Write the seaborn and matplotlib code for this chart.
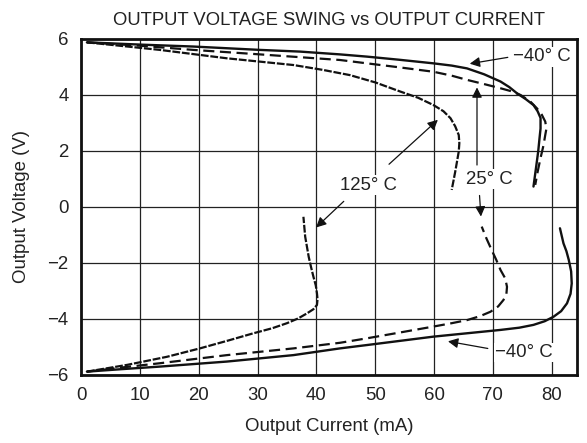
import numpy as np
import pandas as pd
import matplotlib
matplotlib.use("Agg")
import matplotlib.pyplot as plt
import seaborn as sns

# -- data (Output Current mA, Output Voltage V) --
m40_hi_x = [1.0, 10.0, 19.1, 30.4, 37.2, 44.0, 48.6, 54.0, 59.9, 63.0, 65.6, 68.5, 71.3, 72.8, 74.1, 75.6, 76.9, 77.6, 78.1, 78.1, 77.9, 77.7, 77.3, 76.9]
m40_hi_y = [5.88, 5.80, 5.73, 5.61, 5.55, 5.45, 5.37, 5.26, 5.13, 5.05, 4.95, 4.74, 4.48, 4.28, 4.06, 3.85, 3.64, 3.42, 3.18, 2.80, 2.40, 1.98, 1.35, 0.73]
m40_lo_x = [1.0, 7.0, 13.4, 24.8, 36.1, 44.0, 48.6, 59.9, 71.3, 74.5, 76.9, 78.8, 80.3, 81.6, 82.6, 83.2, 83.4, 83.3, 82.9, 82.5, 82.0, 81.4]
m40_lo_y = [-5.88, -5.79, -5.70, -5.52, -5.29, -5.05, -4.93, -4.63, -4.39, -4.31, -4.21, -4.08, -3.92, -3.72, -3.44, -3.10, -2.73, -2.30, -1.89, -1.58, -1.30, -0.76]

t25_hi_x = [1.0, 10.0, 19.1, 30.4, 37.2, 44.0, 48.6, 54.0, 59.9, 63.0, 65.6, 68.5, 71.3, 73.2, 74.7, 76.3, 77.5, 78.3, 78.9, 79.1, 78.9, 78.6, 78.1, 77.6, 77.2]
t25_hi_y = [5.88, 5.76, 5.61, 5.45, 5.35, 5.25, 5.13, 4.99, 4.83, 4.69, 4.54, 4.39, 4.24, 4.13, 4.00, 3.78, 3.52, 3.30, 3.05, 2.80, 2.57, 2.20, 1.75, 1.25, 0.79]
t25_lo_x = [1.0, 7.0, 13.4, 24.8, 36.1, 44.0, 48.6, 54.0, 59.9, 63.0, 65.6, 67.8, 69.6, 70.9, 71.8, 72.3, 72.4, 72.1, 71.3, 70.6, 69.8, 68.9, 68.1]
t25_lo_y = [-5.88, -5.73, -5.58, -5.29, -5.05, -4.85, -4.69, -4.49, -4.27, -4.15, -4.04, -3.90, -3.74, -3.55, -3.32, -3.10, -2.85, -2.55, -2.25, -1.90, -1.54, -1.12, -0.70]

t125_hi_x = [1.0, 7.0, 13.4, 24.8, 36.1, 41.0, 45.7, 50.0, 54.3, 57.3, 59.9, 61.6, 62.8, 63.6, 64.2, 64.3, 64.2, 63.9, 63.6, 63.3, 63.0]
t125_hi_y = [5.88, 5.75, 5.61, 5.31, 5.07, 4.90, 4.71, 4.45, 4.12, 3.90, 3.64, 3.42, 3.17, 2.88, 2.57, 2.28, 1.98, 1.62, 1.26, 0.93, 0.61]
t125_lo_x = [1.0, 7.8, 14.6, 20.2, 25.0, 29.3, 32.5, 35.0, 36.9, 38.4, 39.5, 40.1, 40.2, 40.1, 39.9, 39.5, 39.1, 38.7, 38.4, 38.1, 37.8]
t125_lo_y = [-5.88, -5.64, -5.35, -5.05, -4.77, -4.51, -4.33, -4.15, -3.98, -3.80, -3.65, -3.50, -3.30, -3.08, -2.80, -2.49, -2.15, -1.78, -1.42, -1.06, -0.35]

x_ticks = [0, 10, 20, 30, 40, 50, 60, 70, 80]
y_ticks = [-6, -4, -2, 0, 2, 4, 6]

sns.set_style("white")
plt.rcParams['font.family'] = ['Liberation Sans', 'DejaVu Sans']

fig = plt.figure(figsize=(5.87, 4.43), dpi=100)
ax = fig.add_axes([0.138, 0.1535, 0.845, 0.7585])

curves = [
    (m40_hi_x, m40_hi_y, '-', 1.7, None),
    (m40_lo_x, m40_lo_y, '-', 1.7, None),
    (t25_hi_x, t25_hi_y, '--', 1.6, (5, 2.5)),
    (t25_lo_x, t25_lo_y, '--', 1.6, (5, 2.5)),
    (t125_hi_x, t125_hi_y, '--', 1.6, (3.5, 0.8)),
    (t125_lo_x, t125_lo_y, '--', 1.6, (3.5, 0.8)),
]
for cx, cy, ls, lw, dash in curves:
    df = pd.DataFrame({'I': cx, 'V': cy})
    sns.lineplot(data=df, x='I', y='V', sort=False, estimator=None,
                 color='#111111', linewidth=lw, linestyle=ls, ax=ax)
    ax.lines[-1].set_solid_joinstyle('round')
    if dash is not None:
        ax.lines[-1].set_dashes(dash)

ax.set_xlim(0, 84.3)
ax.set_ylim(-6, 6)
ax.set_xticks(x_ticks)
ax.set_yticks(y_ticks)
ax.set_yticklabels([str(v).replace('-', '\u2212') for v in y_ticks])
ax.grid(True, color='#222222', linewidth=0.9)
ax.tick_params(length=0, labelsize=13.4, pad=9, colors='#222222')
for s in ax.spines.values():
    s.set_color('#111111')
    s.set_linewidth(2.0)

ax.set_xlabel('Output Current (mA)', fontsize=13.4, color='#222222', labelpad=10)
ax.set_ylabel('Output Voltage (V)', fontsize=13.4, color='#222222', labelpad=12)
ax.set_title('OUTPUT VOLTAGE SWING vs OUTPUT CURRENT', fontsize=13.3, color='#222222', pad=10)

arrow = dict(arrowstyle='-|>', color='#111111', lw=0.9, mutation_scale=15)
txt = dict(fontsize=13.4, color='#222222', va='center', ha='center',
           bbox=dict(facecolor='white', edgecolor='none', pad=1))

ax.text(78.3, 5.36, '\u221240\u00b0 C', **txt)
ax.annotate('', xy=(65.6, 5.10), xytext=(73.0, 5.36), arrowprops=arrow)

ax.text(75.3, -5.19, '\u221240\u00b0 C', **txt)
ax.annotate('', xy=(61.9, -4.78), xytext=(69.6, -5.07), arrowprops=arrow)

ax.text(48.9, 0.78, '125\u00b0 C', **txt)
ax.annotate('', xy=(61.0, 3.18), xytext=(52.0, 1.46), arrowprops=arrow)
ax.annotate('', xy=(39.6, -0.80), xytext=(45.0, 0.27), arrowprops=arrow)

ax.text(69.4, 0.99, '25\u00b0 C', **txt)
ax.annotate('', xy=(67.3, 4.37), xytext=(67.3, 1.40), arrowprops=arrow)
ax.annotate('', xy=(68.0, -0.44), xytext=(67.7, 0.51), arrowprops=arrow)

fig.savefig('out.png', dpi=100)
